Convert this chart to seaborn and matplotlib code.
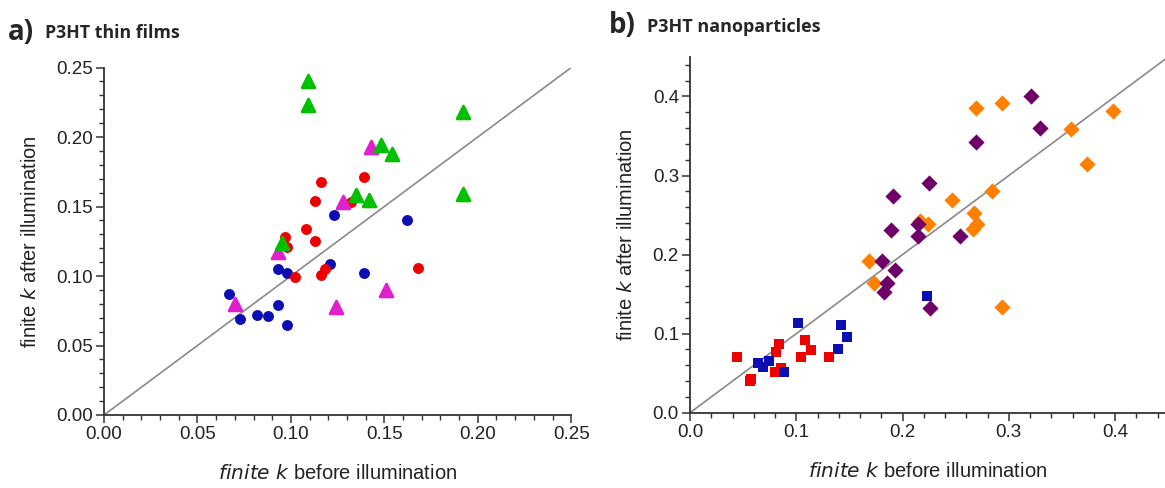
import numpy as np
import pandas as pd
import seaborn as sns
import matplotlib.pyplot as plt
from matplotlib.ticker import MultipleLocator

# ---- panel a: P3HT thin films ----
blue_a_x = [0.067, 0.073, 0.082, 0.088, 0.093, 0.098, 0.093, 0.098, 0.121, 0.139, 0.123, 0.162]
blue_a_y = [0.087, 0.069, 0.072, 0.071, 0.105, 0.102, 0.079, 0.065, 0.109, 0.102, 0.144, 0.140]
red_a_x = [0.116, 0.139, 0.113, 0.132, 0.108, 0.113, 0.097, 0.098, 0.102, 0.116, 0.118, 0.168]
red_a_y = [0.168, 0.171, 0.154, 0.153, 0.134, 0.125, 0.128, 0.121, 0.099, 0.101, 0.105, 0.106]
green_a_x = [0.109, 0.109, 0.148, 0.154, 0.135, 0.142, 0.095, 0.192, 0.192]
green_a_y = [0.240, 0.223, 0.194, 0.188, 0.158, 0.155, 0.124, 0.218, 0.159]
magenta_a_x = [0.143, 0.128, 0.093, 0.070, 0.124, 0.151]
magenta_a_y = [0.193, 0.153, 0.117, 0.080, 0.078, 0.090]

# ---- panel b: P3HT nanoparticles ----
red_b_x = [0.044, 0.056, 0.057, 0.081, 0.084, 0.080, 0.086, 0.104, 0.108, 0.114, 0.131]
red_b_y = [0.071, 0.040, 0.043, 0.077, 0.087, 0.052, 0.057, 0.071, 0.092, 0.079, 0.070]
blue_b_x = [0.064, 0.069, 0.074, 0.088, 0.102, 0.139, 0.142, 0.148, 0.223]
blue_b_y = [0.063, 0.058, 0.066, 0.052, 0.114, 0.081, 0.111, 0.096, 0.148]
orange_b_x = [0.168, 0.173, 0.216, 0.224, 0.247, 0.269, 0.294, 0.359, 0.398, 0.374,
              0.284, 0.267, 0.270, 0.266, 0.294]
orange_b_y = [0.192, 0.164, 0.243, 0.239, 0.269, 0.386, 0.392, 0.359, 0.382, 0.314,
              0.280, 0.253, 0.239, 0.232, 0.134]
purple_b_x = [0.181, 0.193, 0.185, 0.183, 0.226, 0.215, 0.254, 0.189, 0.191, 0.225,
              0.215, 0.321, 0.269, 0.329]
purple_b_y = [0.192, 0.181, 0.164, 0.153, 0.133, 0.223, 0.223, 0.231, 0.274, 0.291,
              0.239, 0.401, 0.342, 0.360]

colors = {'blue': '#0d0db4', 'red': '#ee0000', 'green': '#00c000', 'magenta': '#e020cc',
          'orange': '#ff8000', 'purple': '#6e0068'}

sns.set_style('white')
plt.rcParams['font.family'] = ['Liberation Sans', 'DejaVu Sans']

fig = plt.figure(figsize=(11.65, 4.88), dpi=100)
ax_a = fig.add_axes([0.0893, 0.1496, 0.401, 0.712])
ax_b = fig.add_axes([0.5923, 0.1543, 0.4077, 0.729])


def frame(name, xs, ys):
    return pd.DataFrame({'x': xs, 'y': ys, 'g': name})


df_a = pd.concat([frame('blue', blue_a_x, blue_a_y),
                  frame('red', red_a_x, red_a_y),
                  frame('magenta', magenta_a_x, magenta_a_y),
                  frame('green', green_a_x, green_a_y)])
df_b = pd.concat([frame('red', red_b_x, red_b_y),
                  frame('blue', blue_b_x, blue_b_y),
                  frame('orange', orange_b_x, orange_b_y),
                  frame('purple', purple_b_x, purple_b_y)])

# diagonal y = x
for ax in (ax_a, ax_b):
    ax.plot([0, 1], [0, 1], color='#8a8a8a', lw=1.2, zorder=1)

for g, sub in df_a.groupby('g', sort=False):
    circ = g in ('blue', 'red')
    sns.scatterplot(data=sub, x='x', y='y', ax=ax_a, color=colors[g],
                    marker='o' if circ else '^', s=62 if circ else 85,
                    linewidth=0 if circ else 2.0, edgecolor=colors[g],
                    zorder=3, legend=False)
for c in ax_a.collections:
    c.set_joinstyle('round')

for g, sub in df_b.groupby('g', sort=False):
    sq = g in ('blue', 'red')
    sns.scatterplot(data=sub, x='x', y='y', ax=ax_b, color=colors[g],
                    marker='s' if sq else 'D', s=55 if sq else 68,
                    linewidth=0, zorder=3, legend=False)

ax_a.set_xlim(0, 0.25)
ax_a.set_ylim(0, 0.25)
ax_a.xaxis.set_major_locator(MultipleLocator(0.05))
ax_a.yaxis.set_major_locator(MultipleLocator(0.05))
ax_a.xaxis.set_minor_locator(MultipleLocator(0.01))
ax_a.yaxis.set_minor_locator(MultipleLocator(0.01))
ax_a.xaxis.set_major_formatter(lambda v, p: f'{v:.2f}')
ax_a.yaxis.set_major_formatter(lambda v, p: f'{v:.2f}')

ax_b.set_xlim(0, 0.447)
ax_b.set_ylim(0, 0.45)
ax_b.xaxis.set_major_locator(MultipleLocator(0.1))
ax_b.yaxis.set_major_locator(MultipleLocator(0.1))
ax_b.xaxis.set_minor_locator(MultipleLocator(0.02))
ax_b.yaxis.set_minor_locator(MultipleLocator(0.02))
ax_b.xaxis.set_major_formatter(lambda v, p: f'{v:.1f}')
ax_b.yaxis.set_major_formatter(lambda v, p: f'{v:.1f}')

for ax in (ax_a, ax_b):
    sns.despine(ax=ax)
    for sp in ('left', 'bottom'):
        ax.spines[sp].set_color('#333333')
        ax.spines[sp].set_linewidth(1.3)
    ax.tick_params(which='major', direction='out', length=6, width=1.1,
                   color='#333333', labelsize=13.5, labelcolor='#222222',
                   left=True, bottom=True, pad=2)
    ax.tick_params(which='minor', direction='out', length=3.5, width=1.0,
                   color='#333333', left=True, bottom=True)
    ax.set_xlabel(r'$\it{finite\ k}$ before illumination', fontsize=14.5,
                  color='#222222', labelpad=15)
    ax.set_ylabel(r'finite $\it{k}$ after illumination', fontsize=14.5,
                  color='#222222', labelpad=12)

fig.text(0.007, 0.933, 'a)', fontsize=20, fontweight='bold', family='Open Sans', va='center')
fig.text(0.039, 0.932, 'P3HT thin films', fontsize=12.8, fontweight='bold', family='Open Sans', va='center')
fig.text(0.523, 0.947, 'b)', fontsize=20, fontweight='bold', family='Open Sans', va='center')
fig.text(0.555, 0.944, 'P3HT nanoparticles', fontsize=13, fontweight='bold', family='Open Sans', va='center')

fig.savefig('out.png', dpi=100, facecolor='white')
